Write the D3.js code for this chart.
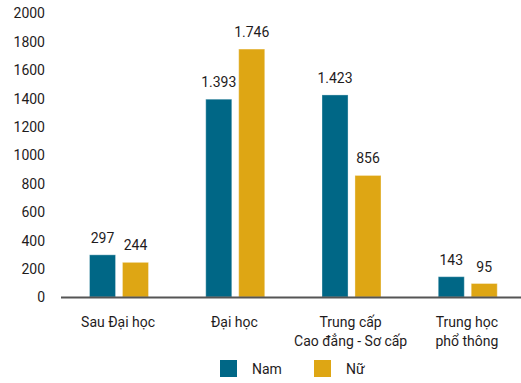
<!DOCTYPE html>
<html>
<head>
<meta charset="utf-8">
<script src="https://cdn.jsdelivr.net/npm/d3@7"></script>
<style>
  body { margin: 0; background: #fff; }
  svg text { font-family: Roboto, "Noto Sans", sans-serif; fill: #1f1c1d; }
</style>
</head>
<body>
<div id="chart"></div>
<script>
// data
var categories = [["Sau Đại học"], ["Đại học"], ["Trung cấp", "Cao đẳng - Sơ cấp"], ["Trung học", "phổ thông"]];
var series = ["Nam", "Nữ"];
var namValues = [297, 1393, 1423, 143];
var nuValues = [244, 1746, 856, 95];
var yTicks = [0, 200, 400, 600, 800, 1000, 1200, 1400, 1600, 1800, 2000];

var colors = { "Nam": "#006786", "Nữ": "#dea614" };

var svgWidth = 521;
var svgHeight = 383;

var svg = d3.select("#chart")
    .append("svg")
    .attr("width", svgWidth)
    .attr("height", svgHeight);

// vietnamese style thousands separator
var vn = d3.formatLocale({ decimal: ",", thousands: ".", grouping: [3], currency: ["", ""] });
var fmt = vn.format(",d");

var x0 = d3.scaleBand().domain(d3.range(categories.length)).range([60, 525]).paddingInner(0).paddingOuter(0);
var x1 = d3.scaleBand().domain(series).range([29.5, 88.5]).paddingInner(0.21);
var y = d3.scaleLinear().domain([0, 2000]).range([297, 13]);

// y axis labels only
var leftAxis = d3.axisLeft(y).tickValues(yTicks).tickSize(0).tickPadding(0).tickFormat(d3.format("d"));
var gy = svg.append("g").attr("transform", "translate(45,0)").call(leftAxis);
gy.select(".domain").remove();
gy.selectAll("text").attr("font-size", 14).attr("dy", "0.35em")
    .style("font-family", "Roboto, sans-serif").attr("fill", "#1f1c1d");

var rows = categories.map(function(c, i) {
    return [{ key: "Nam", value: namValues[i] }, { key: "Nữ", value: nuValues[i] }];
});

var groups = svg.selectAll(".grp")
    .data(rows)
    .enter().append("g")
    .attr("transform", function(d, i) { return "translate(" + x0(i) + ",0)"; });

groups.selectAll("rect")
    .data(function(d) { return d; })
    .enter().append("rect")
    .attr("x", function(d) { return x1(d.key); })
    .attr("y", function(d) { return y(d.value); })
    .attr("width", x1.bandwidth())
    .attr("height", function(d) { return y(0) - y(d.value); })
    .attr("fill", function(d) { return colors[d.key]; })
    .attr("stroke", "#ffffff")
    .attr("stroke-opacity", 0.35)
    .attr("stroke-width", 1);

groups.selectAll(".lbl")
    .data(function(d) { return d; })
    .enter().append("text")
    .attr("x", function(d) { return x1(d.key) + x1.bandwidth() / 2; })
    .attr("y", function(d) { return y(d.value) - 12; })
    .attr("text-anchor", "middle")
    .attr("font-size", 14)
    .text(function(d) { return fmt(d.value); });

// baseline
svg.append("line")
    .attr("x1", 61).attr("x2", 521)
    .attr("y1", y(0) + 0.5).attr("y2", y(0) + 0.5)
    .attr("stroke", "#555")
    .attr("stroke-width", 2);

// category labels
var catLabels = svg.selectAll(".cat")
    .data(categories)
    .enter().append("text")
    .attr("text-anchor", "middle")
    .attr("font-size", 14)
    .attr("x", function(d, i) { return x0(i) + x0.bandwidth() / 2; })
    .attr("y", 327);

catLabels.selectAll("tspan")
    .data(function(d) { return d; })
    .enter().append("tspan")
    .attr("x", function() { return this.parentNode.getAttribute("x"); })
    .attr("dy", function(d, i) { return i === 0 ? 0 : 19; })
    .text(function(d) { return d; });

// legend
var legendX = [220, 314];
var legend = svg.selectAll(".leg")
    .data(series)
    .enter().append("g")
    .attr("transform", function(d, i) { return "translate(" + legendX[i] + ",360)"; });

legend.append("rect")
    .attr("width", 17).attr("height", 17)
    .attr("fill", function(d) { return colors[d]; });

legend.append("text")
    .attr("x", 32).attr("y", 13.5)
    .attr("font-size", 14)
    .text(function(d) { return d; });
</script>
</body>
</html>
